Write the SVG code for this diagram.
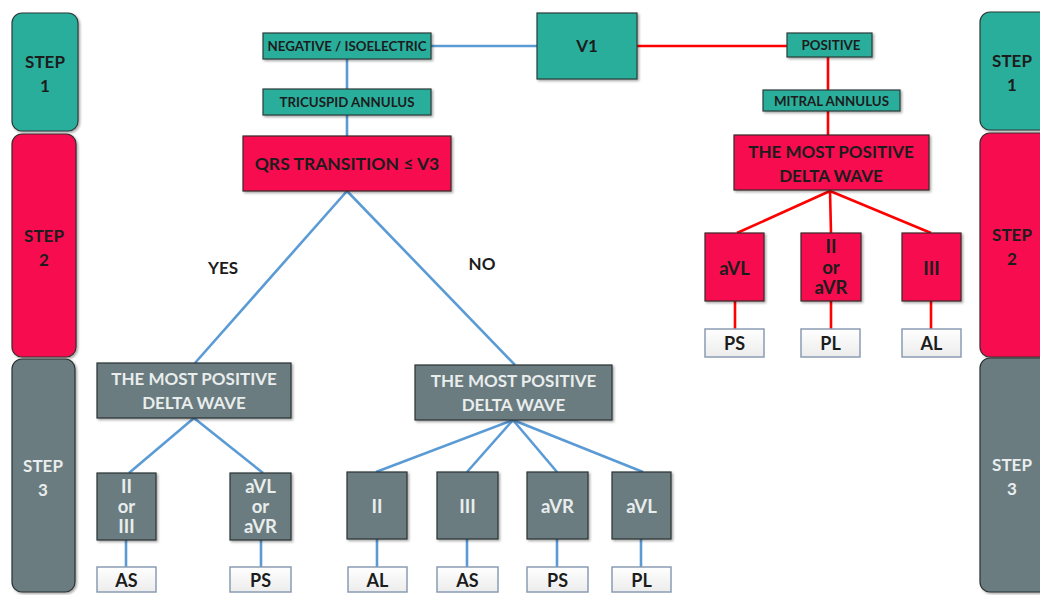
<svg xmlns="http://www.w3.org/2000/svg" width="1040" height="595" viewBox="0 0 1040 595">
<defs>
<filter id="sh" x="-10%" y="-10%" width="130%" height="130%">
<feDropShadow dx="1.5" dy="1.5" stdDeviation="1.2" flood-color="#000" flood-opacity="0.35"/>
</filter>
<linearGradient id="wg" x1="0" y1="0" x2="0" y2="1">
<stop offset="0" stop-color="#ffffff"/><stop offset="1" stop-color="#ececec"/>
</linearGradient>
</defs>
<style>
.teal{fill:#2aae9c;stroke:#2b3b3a;stroke-width:1.2;filter:url(#sh)}
.red{fill:#f7114f;stroke:#3a2a2a;stroke-width:1.2;filter:url(#sh)}
.grey{fill:#6b7c7f;stroke:#2a3233;stroke-width:1.2;filter:url(#sh)}
.lbl{fill:url(#wg);stroke:#8a9cb4;stroke-width:1.5}
text{font-family:Lato,"Liberation Sans",sans-serif;font-weight:bold;text-anchor:middle}
.dk{fill:#1c1c1c}
.lt{fill:#e9eded}
.s13{font-size:13.3px}
.s17{font-size:17px}
.s18{font-size:18px}
.s19{font-size:18.5px}
.bl{stroke:#5b9bd5;stroke-width:2.6;fill:none}
.rl{stroke:#ff0000;stroke-width:2.6;fill:none}
</style>
<rect width="1040" height="595" fill="#ffffff"/>

<g id="connectors">
<line class="bl" x1="431" y1="46" x2="537" y2="46"/>
<line class="rl" x1="637" y1="46" x2="787" y2="46"/>
<line class="bl" x1="347" y1="59" x2="347" y2="89"/>
<line class="bl" x1="347" y1="115" x2="347" y2="136"/>
<line class="rl" x1="828" y1="57" x2="828" y2="90"/>
<line class="rl" x1="828" y1="111" x2="828" y2="135"/>
<line class="rl" x1="830" y1="191" x2="737" y2="233"/>
<line class="rl" x1="830" y1="191" x2="831" y2="233"/>
<line class="rl" x1="830" y1="191" x2="931" y2="233"/>
<line class="rl" x1="735" y1="301" x2="735" y2="329"/>
<line class="rl" x1="831" y1="301" x2="831" y2="329"/>
<line class="rl" x1="931" y1="301" x2="931" y2="329"/>
<line class="bl" x1="347" y1="191" x2="195" y2="363"/>
<line class="bl" x1="347" y1="191" x2="515" y2="365"/>
<line class="bl" x1="194" y1="418" x2="129" y2="473"/>
<line class="bl" x1="194" y1="418" x2="263" y2="473"/>
<line class="bl" x1="513" y1="420" x2="376" y2="472"/>
<line class="bl" x1="513" y1="420" x2="467" y2="472"/>
<line class="bl" x1="513" y1="420" x2="557" y2="472"/>
<line class="bl" x1="513" y1="420" x2="643" y2="472"/>
<line class="bl" x1="126" y1="540" x2="126" y2="567"/>
<line class="bl" x1="261" y1="540" x2="261" y2="567"/>
<line class="bl" x1="377" y1="539" x2="377" y2="567"/>
<line class="bl" x1="467" y1="539" x2="467" y2="567"/>
<line class="bl" x1="557" y1="539" x2="557" y2="567"/>
<line class="bl" x1="641" y1="539" x2="641" y2="567"/>
</g>

<g id="step1-left"><rect class="teal" x="12" y="13" width="66" height="118" rx="10"/><text class="dk s17" x="45" y="68">STEP</text><text class="dk s17" x="45" y="92">1</text></g>
<g id="step2-left"><rect class="red" x="12" y="134" width="64" height="223" rx="10"/><text class="dk s17" x="44" y="242">STEP</text><text class="dk s17" x="44" y="266">2</text></g>
<g id="step3-left"><rect class="grey" x="12" y="359" width="63" height="233" rx="10"/><text class="lt s17" x="43" y="472">STEP</text><text class="lt s17" x="43" y="496">3</text></g>
<g id="step1-right"><rect class="teal" x="980" y="12" width="70" height="118" rx="10"/><text class="dk s17" x="1012" y="67">STEP</text><text class="dk s17" x="1012" y="91">1</text></g>
<g id="step2-right"><rect class="red" x="980" y="133" width="70" height="224" rx="10"/><text class="dk s17" x="1012" y="241">STEP</text><text class="dk s17" x="1012" y="265">2</text></g>
<g id="step3-right"><rect class="grey" x="980" y="358" width="70" height="234" rx="10"/><text class="lt s17" x="1012" y="471">STEP</text><text class="lt s17" x="1012" y="495">3</text></g>

<g id="v1"><rect class="teal" x="537" y="13" width="100" height="66"/><text class="dk s17" x="587" y="52">V1</text></g>
<g id="negative"><rect class="teal" x="263" y="33" width="168" height="26"/><text class="dk s13" x="347" y="50.5">NEGATIVE / ISOELECTRIC</text></g>
<g id="tricuspid"><rect class="teal" x="263" y="89" width="168" height="26"/><text class="dk s13" x="347" y="106.5">TRICUSPID ANNULUS</text></g>
<g id="positive"><rect class="teal" x="787" y="33" width="85" height="24"/><text class="dk s13" x="831" y="49.5">POSITIVE</text></g>
<g id="mitral"><rect class="teal" x="763" y="90" width="137" height="21"/><text class="dk s13" x="831.5" y="105.5">MITRAL ANNULUS</text></g>
<g id="qrs"><rect class="red" x="243" y="136" width="208" height="55"/><text class="dk" style="font-size:17.5px" x="347" y="170">QRS TRANSITION ≤ V3</text></g>
<g id="red-delta"><rect class="red" x="734" y="135" width="195" height="55"/><text class="dk s17" x="831" y="158">THE MOST POSITIVE</text><text class="dk s17" x="831" y="182">DELTA WAVE</text></g>

<g id="r-avl"><rect class="red" x="705" y="233" width="59" height="68"/><text class="dk s19" x="734.5" y="275">aVL</text></g>
<g id="r-iiavr"><rect class="red" x="801" y="233" width="60" height="68"/><text class="dk s19" x="831" y="253">II</text><text class="dk s19" x="831" y="274">or</text><text class="dk s19" x="831" y="294">aVR</text></g>
<g id="r-iii"><rect class="red" x="902" y="233" width="59" height="68"/><text class="dk s19" x="931.5" y="275">III</text></g>
<g id="r-ps"><rect class="lbl" x="705" y="329" width="59" height="28"/><text class="dk s18" x="734.5" y="350">PS</text></g>
<g id="r-pl"><rect class="lbl" x="801" y="329" width="59" height="28"/><text class="dk s18" x="830.5" y="350">PL</text></g>
<g id="r-al"><rect class="lbl" x="902" y="329" width="59" height="28"/><text class="dk s18" x="931.5" y="350">AL</text></g>

<g id="yes-label"><text class="dk s17" x="223" y="274">YES</text></g>
<g id="no-label"><text class="dk s17" x="482" y="270">NO</text></g>

<g id="grey-delta-yes"><rect class="grey" x="97" y="363" width="194" height="55"/><text class="lt s17" x="194" y="385">THE MOST POSITIVE</text><text class="lt s17" x="194" y="409">DELTA WAVE</text></g>
<g id="grey-delta-no"><rect class="grey" x="415" y="365" width="197" height="55"/><text class="lt s17" x="513.5" y="387">THE MOST POSITIVE</text><text class="lt s17" x="513.5" y="411">DELTA WAVE</text></g>

<g id="g-iiiii"><rect class="grey" x="97" y="473" width="59" height="67"/><text class="lt s19" x="126.5" y="493">II</text><text class="lt s19" x="126.5" y="513">or</text><text class="lt s19" x="126.5" y="533">III</text></g>
<g id="g-avlavr"><rect class="grey" x="230" y="473" width="61" height="67"/><text class="lt s19" x="260.5" y="493">aVL</text><text class="lt s19" x="260.5" y="513">or</text><text class="lt s19" x="260.5" y="533">aVR</text></g>
<g id="g-ii"><rect class="grey" x="347" y="472" width="60" height="67"/><text class="lt s19" x="377" y="513">II</text></g>
<g id="g-iii"><rect class="grey" x="437" y="472" width="61" height="67"/><text class="lt s19" x="467.5" y="513">III</text></g>
<g id="g-avr"><rect class="grey" x="527" y="472" width="61" height="67"/><text class="lt s19" x="557.5" y="513">aVR</text></g>
<g id="g-avl"><rect class="grey" x="612" y="472" width="59" height="67"/><text class="lt s19" x="641.5" y="513">aVL</text></g>

<g id="l-as1"><rect class="lbl" x="97" y="567" width="59" height="25"/><text class="dk s18" x="126.5" y="586.5">AS</text></g>
<g id="l-ps1"><rect class="lbl" x="230" y="567" width="61" height="25"/><text class="dk s18" x="260.5" y="586.5">PS</text></g>
<g id="l-al"><rect class="lbl" x="348" y="567" width="59" height="25"/><text class="dk s18" x="377.5" y="586.5">AL</text></g>
<g id="l-as2"><rect class="lbl" x="437" y="567" width="61" height="25"/><text class="dk s18" x="467.5" y="586.5">AS</text></g>
<g id="l-ps2"><rect class="lbl" x="527" y="567" width="61" height="25"/><text class="dk s18" x="557.5" y="586.5">PS</text></g>
<g id="l-pl"><rect class="lbl" x="612" y="567" width="59" height="25"/><text class="dk s18" x="641.5" y="586.5">PL</text></g>
</svg>
